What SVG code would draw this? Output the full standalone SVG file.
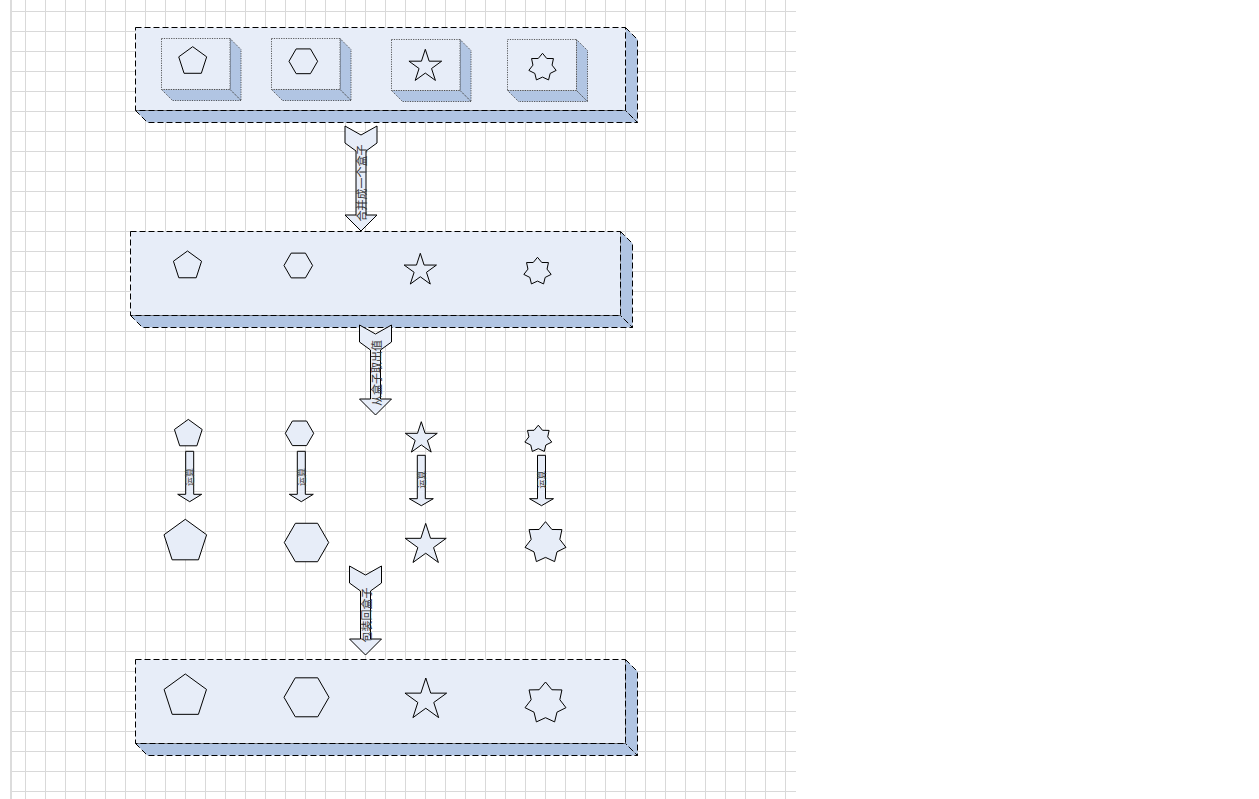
<svg xmlns="http://www.w3.org/2000/svg" xmlns:xlink="http://www.w3.org/1999/xlink" width="1259" height="799" viewBox="0 0 1259 799">
<style>
.box{fill:#e7edf8;stroke:#000;stroke-width:1;stroke-dasharray:6 3}
.side{fill:#b1c5e3;stroke:#000;stroke-width:1;stroke-dasharray:6 3}
.ibox{fill:#e7edf8;stroke:#333;stroke-width:0.8;stroke-dasharray:1.2 1.2}
.iside{fill:#b1c5e3;stroke:#333;stroke-width:0.8;stroke-dasharray:1.2 1.2}
.shp{fill:#e7edf8;stroke:#000;stroke-width:1;vector-effect:non-scaling-stroke}
.arr{fill:#e7edf8;stroke:#000;stroke-width:1}
.lbl{font-family:"Noto Sans CJK SC","Noto Sans",sans-serif;font-size:11px;fill:#333}
.slbl{font-family:"Noto Sans CJK SC","Noto Sans",sans-serif;font-size:9px;fill:#444}
</style>
<defs>
<pattern id="grid" patternUnits="userSpaceOnUse" x="5" y="11" width="20" height="20">
<path d="M0 0.5H20M0.5 0V20" stroke="#d9d9d9" stroke-width="1" fill="none"/>
</pattern>
<polygon id="pent" class="shp" points="0,-10 9.511,-3.090 5.878,8.090 -5.878,8.090 -9.511,-3.090"/>
<polygon id="hex" class="shp" points="10,0 5,8.660 -5,8.660 -10,0 -5,-8.660 5,-8.660"/>
<polygon id="star5" class="shp" points="0,-10 2.245,-3.090 9.511,-3.090 3.633,1.180 5.878,8.090 0,3.820 -5.878,8.090 -3.633,1.180 -9.511,-3.090 -2.245,-3.090"/>
<polygon id="star7" class="shp" points="0,-10 3.037,-6.307 7.818,-6.235 6.824,-1.558 9.749,2.225 5.473,4.365 4.339,9.010 0,7 -4.339,9.010 -5.473,4.365 -9.749,2.225 -6.824,-1.558 -7.818,-6.235 -3.037,-6.307"/>
</defs>
<rect x="0" y="0" width="1259" height="799" fill="#fff"/>
<rect x="11" y="0" width="785" height="799" fill="url(#grid)"/>
<rect x="10" y="0" width="2" height="799" fill="#dcdcdc"/>

<g id="box-top">
<polygon class="side" points="625.5,27.5 637.5,39.5 637.5,122.5 625.5,110.5"/>
<polygon class="side" points="135.5,110.5 625.5,110.5 637.5,122.5 147.5,122.5"/>
<rect class="box" x="135.5" y="27.5" width="490" height="83"/>
<g id="inner-1">
<polygon class="iside" points="230,38.5 241,49.5 241,100.5 230,89.5"/>
<polygon class="iside" points="161.5,89.5 230,89.5 241,100.5 172.5,100.5"/>
<rect class="ibox" x="161.5" y="38.5" width="68.5" height="51"/>
<use href="#pent" transform="translate(192.7,61.4) scale(1.47)"/>
</g>
<g id="inner-2">
<polygon class="iside" points="340,38.5 351,49.5 351,100.5 340,89.5"/>
<polygon class="iside" points="271.5,89.5 340,89.5 351,100.5 282.5,100.5"/>
<rect class="ibox" x="271.5" y="38.5" width="68.5" height="51"/>
<use href="#hex" transform="translate(303.3,61.3) scale(1.43)"/>
</g>
<g id="inner-3">
<polygon class="iside" points="460,39.5 471,50.5 471,101.5 460,90.5"/>
<polygon class="iside" points="391.5,90.5 460,90.5 471,101.5 402.5,101.5"/>
<rect class="ibox" x="391.5" y="39.5" width="68.5" height="51"/>
<use href="#star5" transform="translate(425.3,66.5) scale(1.72)"/>
</g>
<g id="inner-4">
<polygon class="iside" points="576.5,39.5 587.5,50.5 587.5,101.5 576.5,90.5"/>
<polygon class="iside" points="507.5,90.5 576.5,90.5 587.5,101.5 518.5,101.5"/>
<rect class="ibox" x="507.5" y="39.5" width="69" height="51"/>
<use href="#star7" transform="translate(542.5,67.3) scale(1.4)"/>
</g>
</g>

<g id="box-middle">
<polygon class="side" points="620.5,231.5 632.5,243.5 632.5,327.5 620.5,315.5"/>
<polygon class="side" points="130.5,315.5 620.5,315.5 632.5,327.5 142.5,327.5"/>
<rect class="box" x="130.5" y="231.5" width="490" height="84"/>
<use href="#pent" transform="translate(187.5,265.8) scale(1.48)"/>
<use href="#hex" transform="translate(298.3,265.5) scale(1.43)"/>
<use href="#star5" transform="translate(420.3,270.3) scale(1.7)"/>
<use href="#star7" transform="translate(537.5,271.3) scale(1.4)"/>
</g>

<g id="values-small">
<use href="#pent" transform="translate(188.3,434) scale(1.46)"/>
<use href="#hex" transform="translate(299.5,433.3) scale(1.42)"/>
<use href="#star5" transform="translate(421.3,438.5) scale(1.68)"/>
<use href="#star7" transform="translate(538.3,439) scale(1.38)"/>
</g>

<g id="values-large">
<use href="#pent" transform="translate(185.3,541.7) scale(2.24)"/>
<use href="#hex" transform="translate(306.5,542.5) scale(2.22)"/>
<use href="#star5" transform="translate(425.7,545) scale(2.16)"/>
<use href="#star7" transform="translate(545.5,542.7) scale(2.1)"/>
</g>

<g id="box-bottom">
<polygon class="side" points="625.5,659.5 637.5,671.5 637.5,755.5 625.5,743.5"/>
<polygon class="side" points="135.5,743.5 625.5,743.5 637.5,755.5 147.5,755.5"/>
<rect class="box" x="135.5" y="659.5" width="490" height="84"/>
<use href="#pent" transform="translate(185.3,696.3) scale(2.23)"/>
<use href="#hex" transform="translate(306.5,697.3) scale(2.25)"/>
<use href="#star5" transform="translate(425.8,699.9) scale(2.19)"/>
<use href="#star7" transform="translate(545.5,703) scale(2.1)"/>
</g>

<g id="connectors">
<polygon class="arr" points="345,126 361,135 377,126 377,143 366,151 366,215 377,215 361,231 345,215 356,215 356,151 345,143"/>
<text class="lbl" text-anchor="middle" dominant-baseline="central" transform="translate(361,183) rotate(-90)">合并成一个盒子</text>
<polygon class="arr" points="359.5,325 375.5,334 391.5,325 391.5,342 380.5,350 380.5,399 391.5,399 375.5,415 359.5,399 370.5,399 370.5,350 359.5,342"/>
<text class="lbl" text-anchor="middle" dominant-baseline="central" transform="translate(375.5,373) rotate(-90)">从盒子取出值</text>
<polygon class="arr" points="349.5,566 365.5,575 381.5,566 381.5,583 370.5,591 370.5,639 381.5,639 365.5,655 349.5,639 360.5,639 360.5,591 349.5,583"/>
<text class="lbl" text-anchor="middle" dominant-baseline="central" transform="translate(365.5,615) rotate(-90)">包装回盒子</text>
<polygon class="arr" points="185.7,451.3 193.7,451.3 193.7,494.3 201.7,494.3 189.7,501.7 177.7,494.3 185.7,494.3"/>
<text class="slbl" text-anchor="middle" dominant-baseline="central" transform="translate(189.7,477) rotate(-90)">运算</text>
<polygon class="arr" points="297.3,451.3 305.3,451.3 305.3,494.3 313.3,494.3 301.3,501.7 289.3,494.3 297.3,494.3"/>
<text class="slbl" text-anchor="middle" dominant-baseline="central" transform="translate(301.3,477) rotate(-90)">运算</text>
<polygon class="arr" points="417.3,455.3 425.3,455.3 425.3,498.7 433.3,498.7 421.3,505.7 409.3,498.7 417.3,498.7"/>
<text class="slbl" text-anchor="middle" dominant-baseline="central" transform="translate(421.3,479.5) rotate(-90)">运算</text>
<polygon class="arr" points="537.5,455.3 545.5,455.3 545.5,498.7 553.5,498.7 541.5,505.7 529.5,498.7 537.5,498.7"/>
<text class="slbl" text-anchor="middle" dominant-baseline="central" transform="translate(541.5,479.5) rotate(-90)">运算</text>
</g>
</svg>
